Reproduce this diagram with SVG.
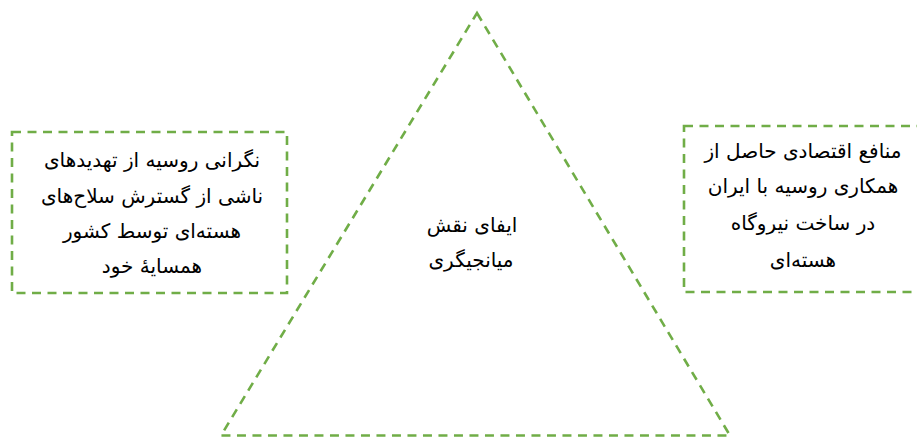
<svg xmlns="http://www.w3.org/2000/svg" width="917" height="439" viewBox="0 0 917 439">
<style>
.sh{fill:none;stroke:#70AD47;stroke-width:2.6;stroke-dasharray:9 6.5}
.t{font-family:"DejaVu Sans","Noto Sans",sans-serif;font-size:20px;fill:#000;text-anchor:middle;direction:rtl;unicode-bidi:embed}
</style>
<rect width="917" height="439" fill="#fff"/>
<g id="triangle">
<polygon class="sh" points="477,13 730,435.5 221,435.5"/>
<text class="t" x="472" y="232">ایفای نقش</text>
<text class="t" x="471" y="267">میانجیگری</text>
</g>
<g id="left-box">
<rect class="sh" x="12" y="132" width="275" height="161"/>
<text class="t" x="152" y="167">نگرانی روسیه از تهدیدهای</text>
<text class="t" x="152" y="203">ناشی از گسترش سلاح‌های</text>
<text class="t" x="152" y="238">هسته‌ای توسط کشور</text>
<text class="t" x="152" y="273">همسایهٔ خود</text>
</g>
<g id="right-box">
<rect class="sh" x="684" y="126" width="240" height="166"/>
<text class="t" x="803" y="158">منافع اقتصادی حاصل از</text>
<text class="t" x="803" y="193">همکاری روسیه با ایران</text>
<text class="t" x="803" y="230">در ساخت نیروگاه</text>
<text class="t" x="803" y="267">هسته‌ای</text>
</g>
<g id="connectors"></g>
</svg>
